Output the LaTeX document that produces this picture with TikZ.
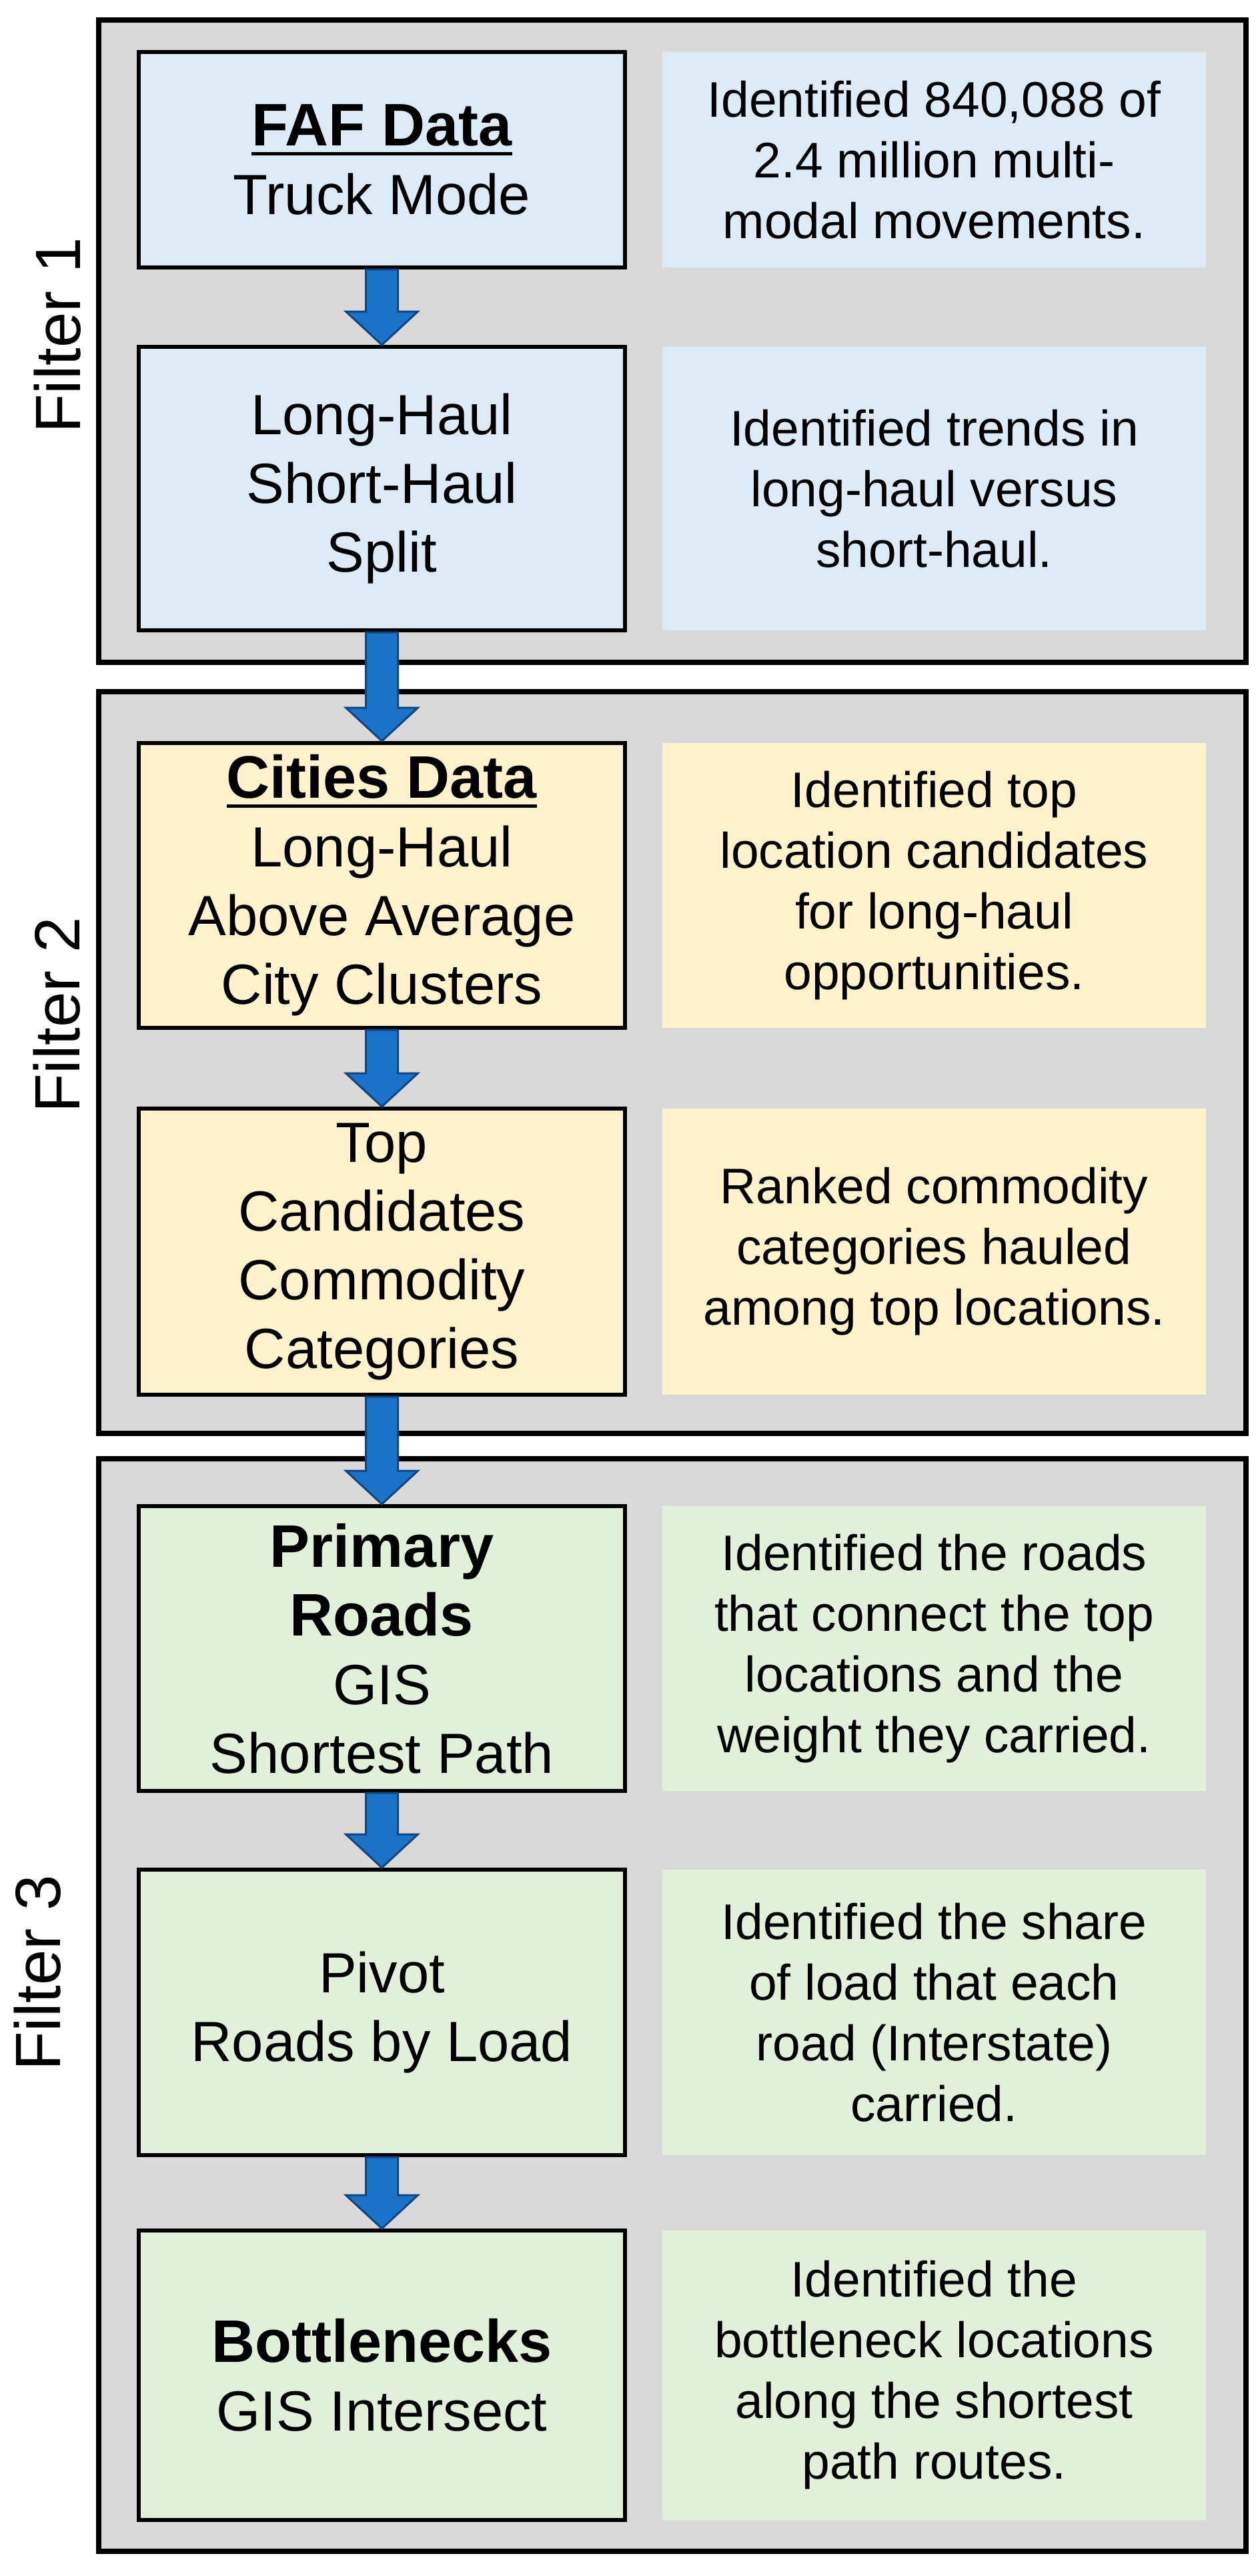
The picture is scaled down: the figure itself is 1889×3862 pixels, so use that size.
\documentclass[tikz,border=0pt]{standalone}
\usepackage{fontspec}
\setmainfont{Liberation Sans}
\usetikzlibrary{calc}
\definecolor{fgray}{HTML}{D9D9D9}
\definecolor{fblue}{HTML}{DDEBF7}
\definecolor{fyellow}{HTML}{FFF2CC}
\definecolor{fgreen}{HTML}{E2F0D9}
\definecolor{arrfill}{RGB}{28,113,200}
\definecolor{arrdraw}{RGB}{16,70,130}
\newcommand\myul[1]{\setbox0\hbox{#1}\rlap{\rule[-14pt]{\wd0}{5pt}}\box0}
\newcommand\titlefont{\fontsize{90}{106}\selectfont\bfseries}
\newcommand\blockarrow[2]{%
  \draw[flowarrow] ($(#1.south)+(-24,0)$) -- ($(#2.north)+(-24,-50)$) -- ($(#2.north)+(-54,-50)$) -- (#2.north) -- ($(#2.north)+(54,-50)$) -- ($(#2.north)+(24,-50)$) -- ($(#1.south)+(24,0)$) -- cycle;}
\begin{document}
\begin{tikzpicture}[x=1pt,y=-1pt,
  filterbox/.style={draw=black, line width=8pt, fill=fgray, inner sep=0pt, minimum width=1720pt},
  stepbox/.style={draw=black, line width=6pt, inner sep=0pt, minimum width=729pt, align=center, font=\fontsize{85}{103}\selectfont},
  notebox/.style={inner sep=0pt, minimum width=815pt, align=center, font=\fontsize{75}{91}\selectfont},
  filterlabel/.style={rotate=90, inner sep=0pt, font=\fontsize{96}{110}\selectfont},
  flowarrow/.style={fill=arrfill, draw=arrdraw, line width=3pt, line join=miter}
]
\fill[white] (0,0) rectangle (1889,3862);
\useasboundingbox (0,0) rectangle (1889,3862);

% filter frames
\node[filterbox, minimum height=963pt]  (f1) at (1008,511.5) {};
\node[filterbox, minimum height=1112pt] (f2) at (1008,1593) {};
\node[filterbox, minimum height=1638pt] (f3) at (1008,3006) {};

% filter labels
\node[filterlabel] (l1) at (86,503) {Filter 1};
\node[filterlabel] (l2) at (85,1522) {Filter 2};
\node[filterlabel] (l3) at (56,2958) {Filter 3};

% Filter 1
\node[stepbox, fill=fblue, minimum height=323pt] (s1) at (572.5,239.5)
  {\myul{\titlefont FAF Data}\\Truck Mode};
\node[notebox, fill=fblue, minimum height=323pt] (n1) at (1400.5,239.5)
  {Identified 840,088 of\\2.4 million multi-\\modal movements.};
\node[stepbox, fill=fblue, minimum height=425pt] (s2) at (572.5,732.5)
  {Long-Haul\\Short-Haul\\Split};
\node[notebox, fill=fblue, minimum height=425pt] (n2) at (1400.5,732.5)
  {Identified trends in\\long-haul versus\\short-haul.};

% Filter 2
\node[stepbox, fill=fyellow, minimum height=427pt] (s3) at (572.5,1327.5)
  {\myul{\titlefont Cities Data}\\Long-Haul\\Above Average\\City Clusters};
\node[notebox, fill=fyellow, minimum height=427pt] (n3) at (1400.5,1327.5)
  {Identified top\\location candidates\\for long-haul\\opportunities.};
\node[stepbox, fill=fyellow, minimum height=429pt] (s4) at (572.5,1876.5)
  {Top\\Candidates\\Commodity\\Categories};
\node[notebox, fill=fyellow, minimum height=429pt] (n4) at (1400.5,1876.5)
  {Ranked commodity\\categories hauled\\among top locations.};

% Filter 3
\node[stepbox, fill=fgreen, minimum height=427pt] (s5) at (572.5,2471.5)
  {{\titlefont Primary}\\{\titlefont Roads}\\GIS\\Shortest Path};
\node[notebox, fill=fgreen, minimum height=427pt] (n5) at (1400.5,2471.5)
  {Identified the roads\\that connect the top\\locations and the\\weight they carried.};
\node[stepbox, fill=fgreen, minimum height=428pt] (s6) at (572.5,3017)
  {Pivot\\Roads by Load};
\node[notebox, fill=fgreen, minimum height=428pt] (n6) at (1400.5,3017)
  {Identified the share\\of load that each\\road (Interstate)\\carried.};
\node[stepbox, fill=fgreen, minimum height=434pt] (s7) at (572.5,3561)
  {{\titlefont Bottlenecks}\\GIS Intersect};
\node[notebox, fill=fgreen, minimum height=434pt] (n7) at (1400.5,3561)
  {Identified the\\bottleneck locations\\along the shortest\\path routes.};

% arrows
\blockarrow{s1}{s2}
\blockarrow{s2}{s3}
\blockarrow{s3}{s4}
\blockarrow{s4}{s5}
\blockarrow{s5}{s6}
\blockarrow{s6}{s7}
\end{tikzpicture}
\end{document}
